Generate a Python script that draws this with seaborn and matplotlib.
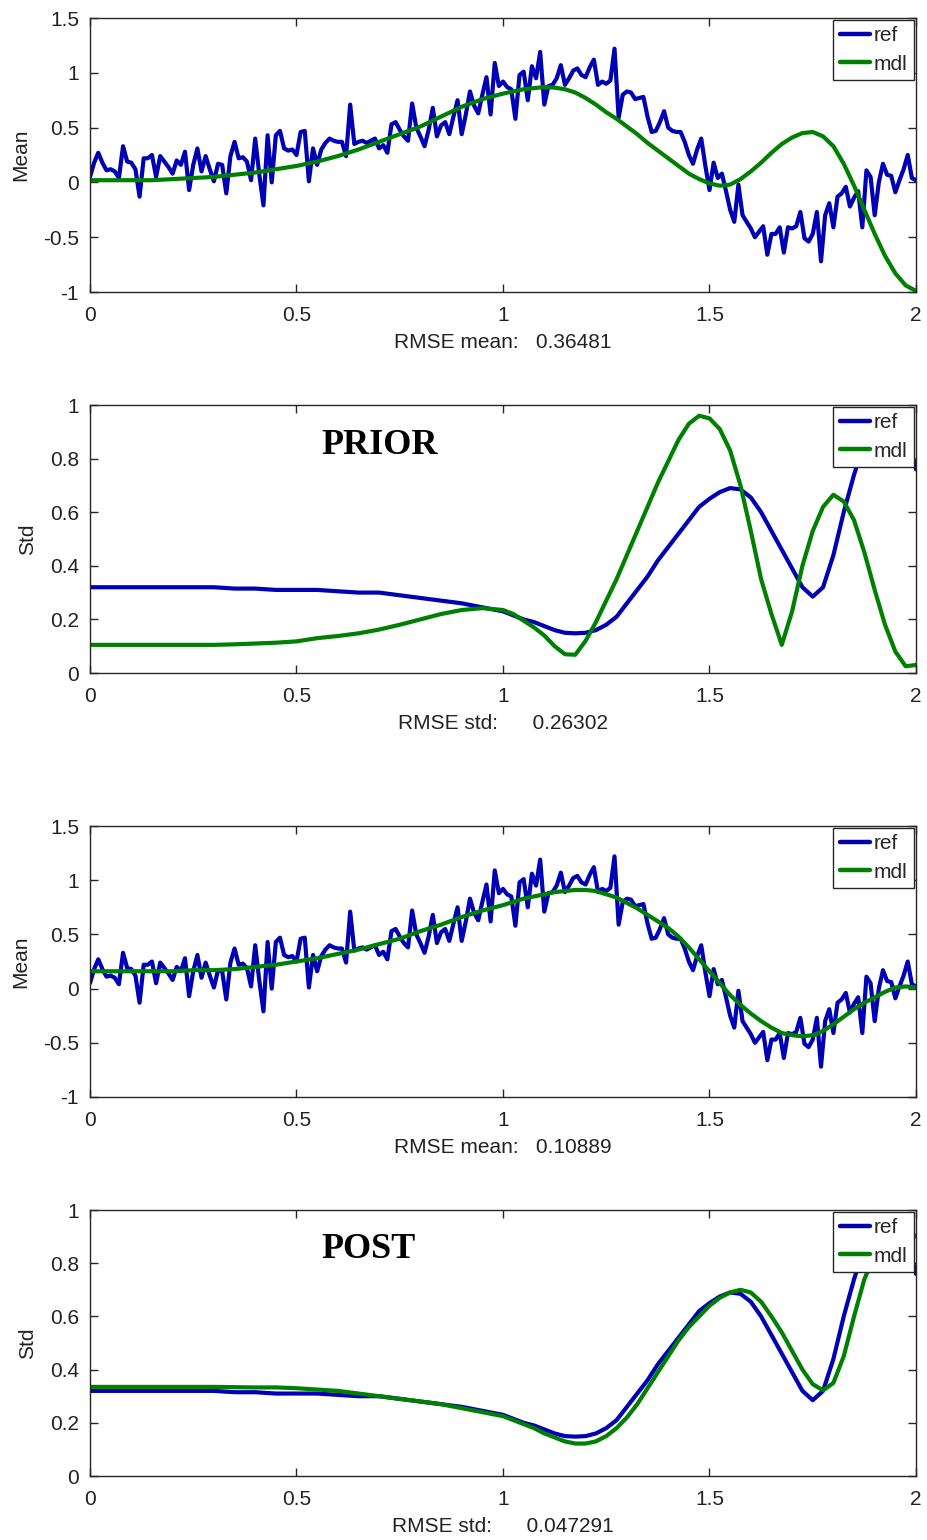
import numpy as np
import pandas as pd
import matplotlib
matplotlib.use("Agg")
import matplotlib.pyplot as plt
import seaborn as sns

# ---------------------------------------------------------------- data
# noisy reference mean, sampled every 0.01 on [0, 2]
x_ref = np.linspace(0, 2, 201)
ref_mean = [
    0.05, 0.18, 0.27, 0.18, 0.11, 0.12, 0.10, 0.04, 0.33, 0.19,
    0.18, 0.12, -0.13, 0.22, 0.22, 0.25, 0.05, 0.24, 0.19, 0.14,
    0.08, 0.20, 0.16, 0.28, -0.07, 0.16, 0.31, 0.10, 0.24, 0.12,
    0.01, 0.17, 0.16, -0.10, 0.24, 0.37, 0.22, 0.23, 0.19, 0.02,
    0.40, 0.07, -0.21, 0.43, 0.00, 0.43, 0.47, 0.31, 0.29, 0.30,
    0.25, 0.46, 0.47, 0.01, 0.31, 0.16, 0.30, 0.36, 0.40, 0.38,
    0.37, 0.37, 0.24, 0.71, 0.35, 0.37, 0.38, 0.36, 0.38, 0.40,
    0.31, 0.34, 0.27, 0.53, 0.55, 0.48, 0.42, 0.38, 0.72, 0.50,
    0.42, 0.33, 0.48, 0.68, 0.42, 0.52, 0.55, 0.44, 0.60, 0.75,
    0.44, 0.62, 0.83, 0.70, 0.63, 0.80, 0.96, 0.62, 1.09, 0.88,
    0.92, 0.87, 0.85, 0.58, 0.98, 1.01, 0.75, 1.06, 0.95, 1.19,
    0.71, 0.88, 0.89, 0.95, 1.07, 0.89, 0.95, 1.02, 1.04, 0.98,
    0.96, 1.05, 1.12, 0.89, 0.92, 0.90, 0.93, 1.22, 0.59, 0.80,
    0.83, 0.82, 0.76, 0.77, 0.78, 0.60, 0.46, 0.47, 0.55, 0.65,
    0.50, 0.47, 0.46, 0.46, 0.37, 0.25, 0.17, 0.30, 0.40, 0.15,
    -0.07, 0.18, 0.04, 0.08, -0.08, -0.25, -0.36, -0.02, -0.30, -0.36,
    -0.42, -0.50, -0.45, -0.40, -0.66, -0.47, -0.47, -0.41, -0.64, -0.41,
    -0.42, -0.40, -0.27, -0.51, -0.54, -0.47, -0.27, -0.72, -0.30, -0.19,
    -0.41, -0.13, -0.10, -0.04, -0.22, -0.14, -0.08, -0.41, 0.11, 0.05,
    -0.30, 0.00, 0.17, 0.07, 0.06, -0.09, 0.02, 0.12, 0.25, 0.04,
    0.02,
]

# smooth curves: step 0.05 on [0, 1), step 0.025 on [1, 2]
x_smooth = np.round(np.r_[np.arange(0, 20) * 0.05, 1 + np.arange(0, 41) * 0.025], 3)

prior_mdl_mean = [
    0.02, 0.02, 0.02, 0.02, 0.03, 0.04, 0.05, 0.07, 0.09, 0.12,
    0.15, 0.19, 0.24, 0.30, 0.37, 0.44, 0.51, 0.60, 0.69, 0.76,
    0.81, 0.83, 0.85, 0.86, 0.87, 0.865, 0.85, 0.82, 0.77, 0.71,
    0.64, 0.58, 0.51, 0.44, 0.36, 0.29, 0.22, 0.15, 0.08, 0.03,
    -0.01, -0.03, -0.02, 0.03, 0.10, 0.18, 0.27, 0.35, 0.41, 0.45,
    0.46, 0.42, 0.33, 0.17, -0.03, -0.25, -0.47, -0.67, -0.83, -0.94,
    -0.99,
]

post_mdl_mean = [
    0.16, 0.16, 0.16, 0.16, 0.16, 0.17, 0.17, 0.18, 0.20, 0.22,
    0.25, 0.28, 0.32, 0.36, 0.41, 0.46, 0.53, 0.59, 0.66, 0.72,
    0.77, 0.80, 0.83, 0.85, 0.87, 0.89, 0.90, 0.91, 0.91, 0.90,
    0.87, 0.84, 0.79, 0.74, 0.68, 0.62, 0.56, 0.48, 0.38, 0.27,
    0.16, 0.05, -0.06, -0.15, -0.23, -0.30, -0.36, -0.41, -0.43, -0.44,
    -0.43, -0.39, -0.33, -0.26, -0.19, -0.13, -0.08, -0.03, 0.01, 0.02,
    0.01,
]

ref_std = [
    0.32, 0.32, 0.32, 0.32, 0.32, 0.32, 0.32, 0.315, 0.315, 0.31,
    0.31, 0.31, 0.305, 0.30, 0.30, 0.29, 0.28, 0.27, 0.26, 0.245,
    0.23, 0.215, 0.20, 0.19, 0.175, 0.16, 0.15, 0.148, 0.15, 0.16,
    0.18, 0.21, 0.26, 0.31, 0.36, 0.42, 0.47, 0.52, 0.57, 0.62,
    0.65, 0.675, 0.69, 0.685, 0.655, 0.60, 0.53, 0.46, 0.39, 0.32,
    0.285, 0.32, 0.44, 0.60, 0.74, 0.86, 0.94, 0.97, 0.97, 0.91,
    0.76,
]

prior_mdl_std = [
    0.105, 0.105, 0.105, 0.105, 0.105, 0.105, 0.105, 0.107, 0.11, 0.113,
    0.118, 0.13, 0.138, 0.148, 0.162, 0.18, 0.20, 0.22, 0.235, 0.242,
    0.235, 0.22, 0.195, 0.17, 0.14, 0.10, 0.07, 0.068, 0.12, 0.19,
    0.27, 0.35, 0.44, 0.53, 0.62, 0.71, 0.79, 0.87, 0.93, 0.96,
    0.95, 0.91, 0.83, 0.70, 0.53, 0.35, 0.22, 0.105, 0.23, 0.40,
    0.53, 0.62, 0.665, 0.64, 0.57, 0.45, 0.31, 0.18, 0.08, 0.025,
    0.03,
]

post_mdl_std = [
    0.335, 0.335, 0.335, 0.335, 0.335, 0.335, 0.335, 0.334, 0.333, 0.333,
    0.33, 0.325, 0.32, 0.31, 0.30, 0.29, 0.28, 0.27, 0.255, 0.24,
    0.225, 0.21, 0.195, 0.18, 0.16, 0.145, 0.13, 0.122, 0.122, 0.13,
    0.15, 0.18, 0.22, 0.27, 0.33, 0.39, 0.45, 0.51, 0.56, 0.60,
    0.64, 0.67, 0.69, 0.70, 0.69, 0.655, 0.60, 0.54, 0.47, 0.40,
    0.345, 0.322, 0.35, 0.45, 0.60, 0.74, 0.83, 0.89, 0.92, 0.93,
    0.90,
]

x_ticks = [0, 0.5, 1, 1.5, 2]
x_ticklabels = ["0", "0.5", "1", "1.5", "2"]
mean_ticks = [-1, -0.5, 0, 0.5, 1, 1.5]
mean_ticklabels = ["-1", "-0.5", "0", "0.5", "1", "1.5"]
std_ticks = [0, 0.2, 0.4, 0.6, 0.8, 1]
std_ticklabels = ["0", "0.2", "0.4", "0.6", "0.8", "1"]

rmse_labels = [
    "RMSE mean:   0.36481",
    "RMSE std:      0.26302",
    "RMSE mean:   0.10889",
    "RMSE std:      0.047291",
]
stage_labels = ["PRIOR", "POST"]

# ---------------------------------------------------------------- style
sns.set_theme(style="ticks")
plt.rcParams["font.family"] = ["Liberation Sans", "DejaVu Sans"]

BLUE = "#0000b4"
GREEN = "#008000"
AXC = "#262626"
TXT = "#222222"
LW = 3.0
FS = 15

fig = plt.figure(figsize=(9.28, 15.40), dpi=100)
W, H = 928.0, 1540.0
boxes = [(18, 292), (405, 673), (826, 1097), (1210, 1476)]
axes = []
for top, bot in boxes:
    axes.append(fig.add_axes([90 / W, 1 - bot / H, 826 / W, (bot - top) / H]))


def draw_pair(ax, x1, y1, x2, y2):
    d1 = pd.DataFrame({"x": x1, "y": y1})
    d2 = pd.DataFrame({"x": x2, "y": y2})
    sns.lineplot(data=d1, x="x", y="y", ax=ax, color=BLUE, linewidth=LW,
                 label="ref", estimator=None, sort=False)
    sns.lineplot(data=d2, x="x", y="y", ax=ax, color=GREEN, linewidth=LW,
                 label="mdl", estimator=None, sort=False)


def style(ax, ylim, yt, ytl, ylabel, xlabel):
    ax.set_xlim(0, 2)
    ax.set_ylim(*ylim)
    ax.set_xticks(x_ticks)
    ax.set_xticklabels(x_ticklabels)
    ax.set_yticks(yt)
    ax.set_yticklabels(ytl)
    ax.tick_params(direction="in", top=True, right=True, length=6, width=1,
                   labelsize=FS, colors=AXC, labelcolor=TXT)
    ax.tick_params(axis="x", pad=10)
    ax.tick_params(axis="y", pad=8)
    for sp in ax.spines.values():
        sp.set_visible(True)
        sp.set_color(AXC)
        sp.set_linewidth(1)
    ax.set_ylabel(ylabel, fontsize=FS, color=TXT, labelpad=9)
    ax.set_xlabel(xlabel, fontsize=FS, color=TXT, labelpad=6)
    leg = ax.legend(loc="upper right", fontsize=FS, frameon=True, fancybox=False,
                    framealpha=1, edgecolor=AXC, handlelength=1.45,
                    handletextpad=0.2, borderpad=0.3, labelspacing=0.45,
                    borderaxespad=0.1)
    leg.get_frame().set_linewidth(1)
    for h in leg.get_lines():
        h.set_linewidth(3.2)


draw_pair(axes[0], x_ref, ref_mean, x_smooth, prior_mdl_mean)
style(axes[0], (-1, 1.5), mean_ticks, mean_ticklabels, "Mean", rmse_labels[0])

draw_pair(axes[1], x_smooth, ref_std, x_smooth, prior_mdl_std)
style(axes[1], (0, 1), std_ticks, std_ticklabels, "Std", rmse_labels[1])

draw_pair(axes[2], x_ref, ref_mean, x_smooth, post_mdl_mean)
style(axes[2], (-1, 1.5), mean_ticks, mean_ticklabels, "Mean", rmse_labels[2])

draw_pair(axes[3], x_smooth, ref_std, x_smooth, post_mdl_std)
style(axes[3], (0, 1), std_ticks, std_ticklabels, "Std", rmse_labels[3])

for ax, lab in zip([axes[1], axes[3]], stage_labels):
    ax.text(0.56, 0.85, lab, fontsize=26, fontweight="bold", color="black",
            family=["Liberation Serif", "DejaVu Serif"], va="center", ha="left")

fig.savefig("out.png", dpi=100)
